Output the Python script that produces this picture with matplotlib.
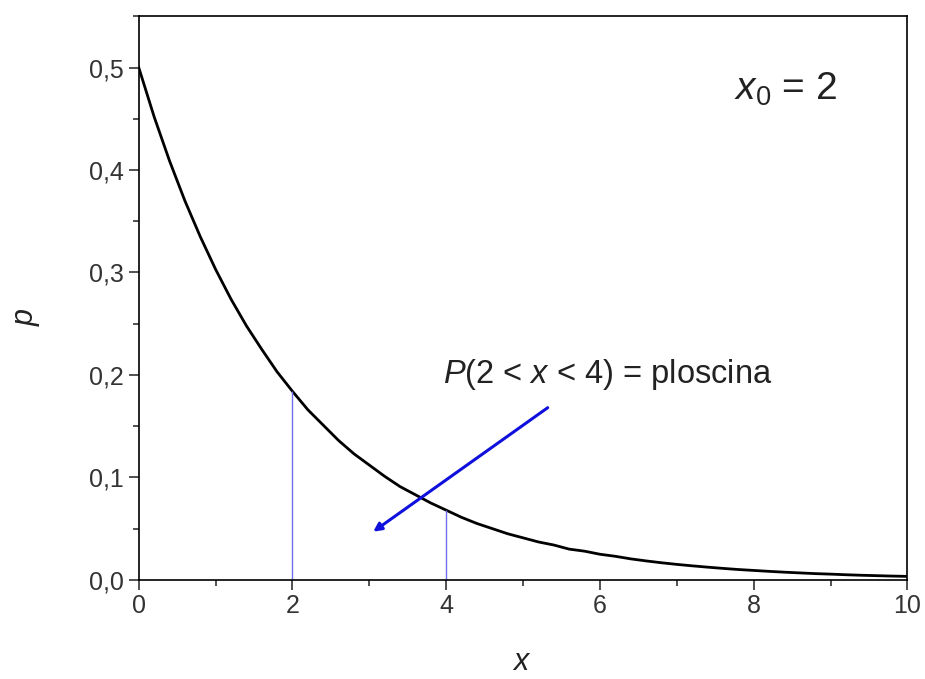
import numpy as np
import matplotlib.pyplot as plt
from matplotlib.ticker import MultipleLocator

plt.rcParams['font.family'] = ['Liberation Sans', 'DejaVu Sans']
plt.rcParams['mathtext.fontset'] = 'custom'
plt.rcParams['mathtext.rm'] = 'Liberation Sans'
plt.rcParams['mathtext.it'] = 'Liberation Sans:italic'

# curve, every 0.2 in x
x = np.arange(0, 10.001, 0.2)
p = [0.500, 0.452, 0.409, 0.370, 0.335, 0.303, 0.274, 0.248, 0.225, 0.203,
     0.184, 0.166, 0.151, 0.136, 0.123, 0.112, 0.101, 0.091, 0.083, 0.075,
     0.068, 0.061, 0.055, 0.050, 0.045, 0.041, 0.037, 0.034, 0.030, 0.028,
     0.025, 0.023, 0.0205, 0.0185, 0.0167, 0.0151, 0.0137, 0.0124, 0.0112,
     0.0101, 0.0092, 0.0083, 0.0075, 0.0068, 0.0061, 0.0056, 0.0050, 0.0045,
     0.0041, 0.0037, 0.0034]

bounds_x = [2, 4]
bounds_p = [0.184, 0.068]

xticks = [0, 2, 4, 6, 8, 10]
xticklabels = ['0', '2', '4', '6', '8', '10']
yticks = [0.0, 0.1, 0.2, 0.3, 0.4, 0.5]
yticklabels = ['0,0', '0,1', '0,2', '0,3', '0,4', '0,5']

fig = plt.figure(figsize=(9.25, 6.79), dpi=100)
ax = fig.add_axes([0.150, 0.146, 0.831, 0.830])

ax.plot(x, p, color='black', lw=2)
ax.vlines(bounds_x, 0, bounds_p, color='#7070ee', lw=1)

ax.annotate('', xy=(3.05, 0.047), xytext=(5.32, 0.168),
            arrowprops=dict(arrowstyle='-|>', color='#1010dd', lw=2.2,
                            mutation_scale=12, shrinkA=0, shrinkB=0))
ax.text(6.1, 0.192, '$P$(2 < $x$ < 4) = ploscina', fontsize=23.5,
        va='baseline', ha='center', color='#222222')
ax.text(8.41, 0.469, '$x_{0}$ = 2', fontsize=28, va='baseline', ha='center',
        color='#222222')

ax.set_xlim(0, 10)
ax.set_ylim(0, 0.55)
ax.set_xticks(xticks)
ax.set_xticklabels(xticklabels)
ax.set_yticks(yticks)
ax.set_yticklabels(yticklabels)
ax.xaxis.set_minor_locator(MultipleLocator(1))
ax.yaxis.set_minor_locator(MultipleLocator(0.05))
ax.tick_params(which='both', direction='out', top=False, right=False,
               labelsize=18, colors='#333333', width=1.2)
ax.tick_params(which='major', length=7)
ax.tick_params(which='minor', length=4)
for s in ax.spines.values():
    s.set_linewidth(1.2)

fig.text(522 / 925, 1 - 662 / 679, '$x$', fontsize=22, ha='center',
         va='center', color='#222222')
fig.text(27 / 925, 1 - 317 / 679, '$p$', fontsize=22, ha='center',
         va='center', rotation=90, color='#222222')

fig.savefig('out.png', dpi=100)
